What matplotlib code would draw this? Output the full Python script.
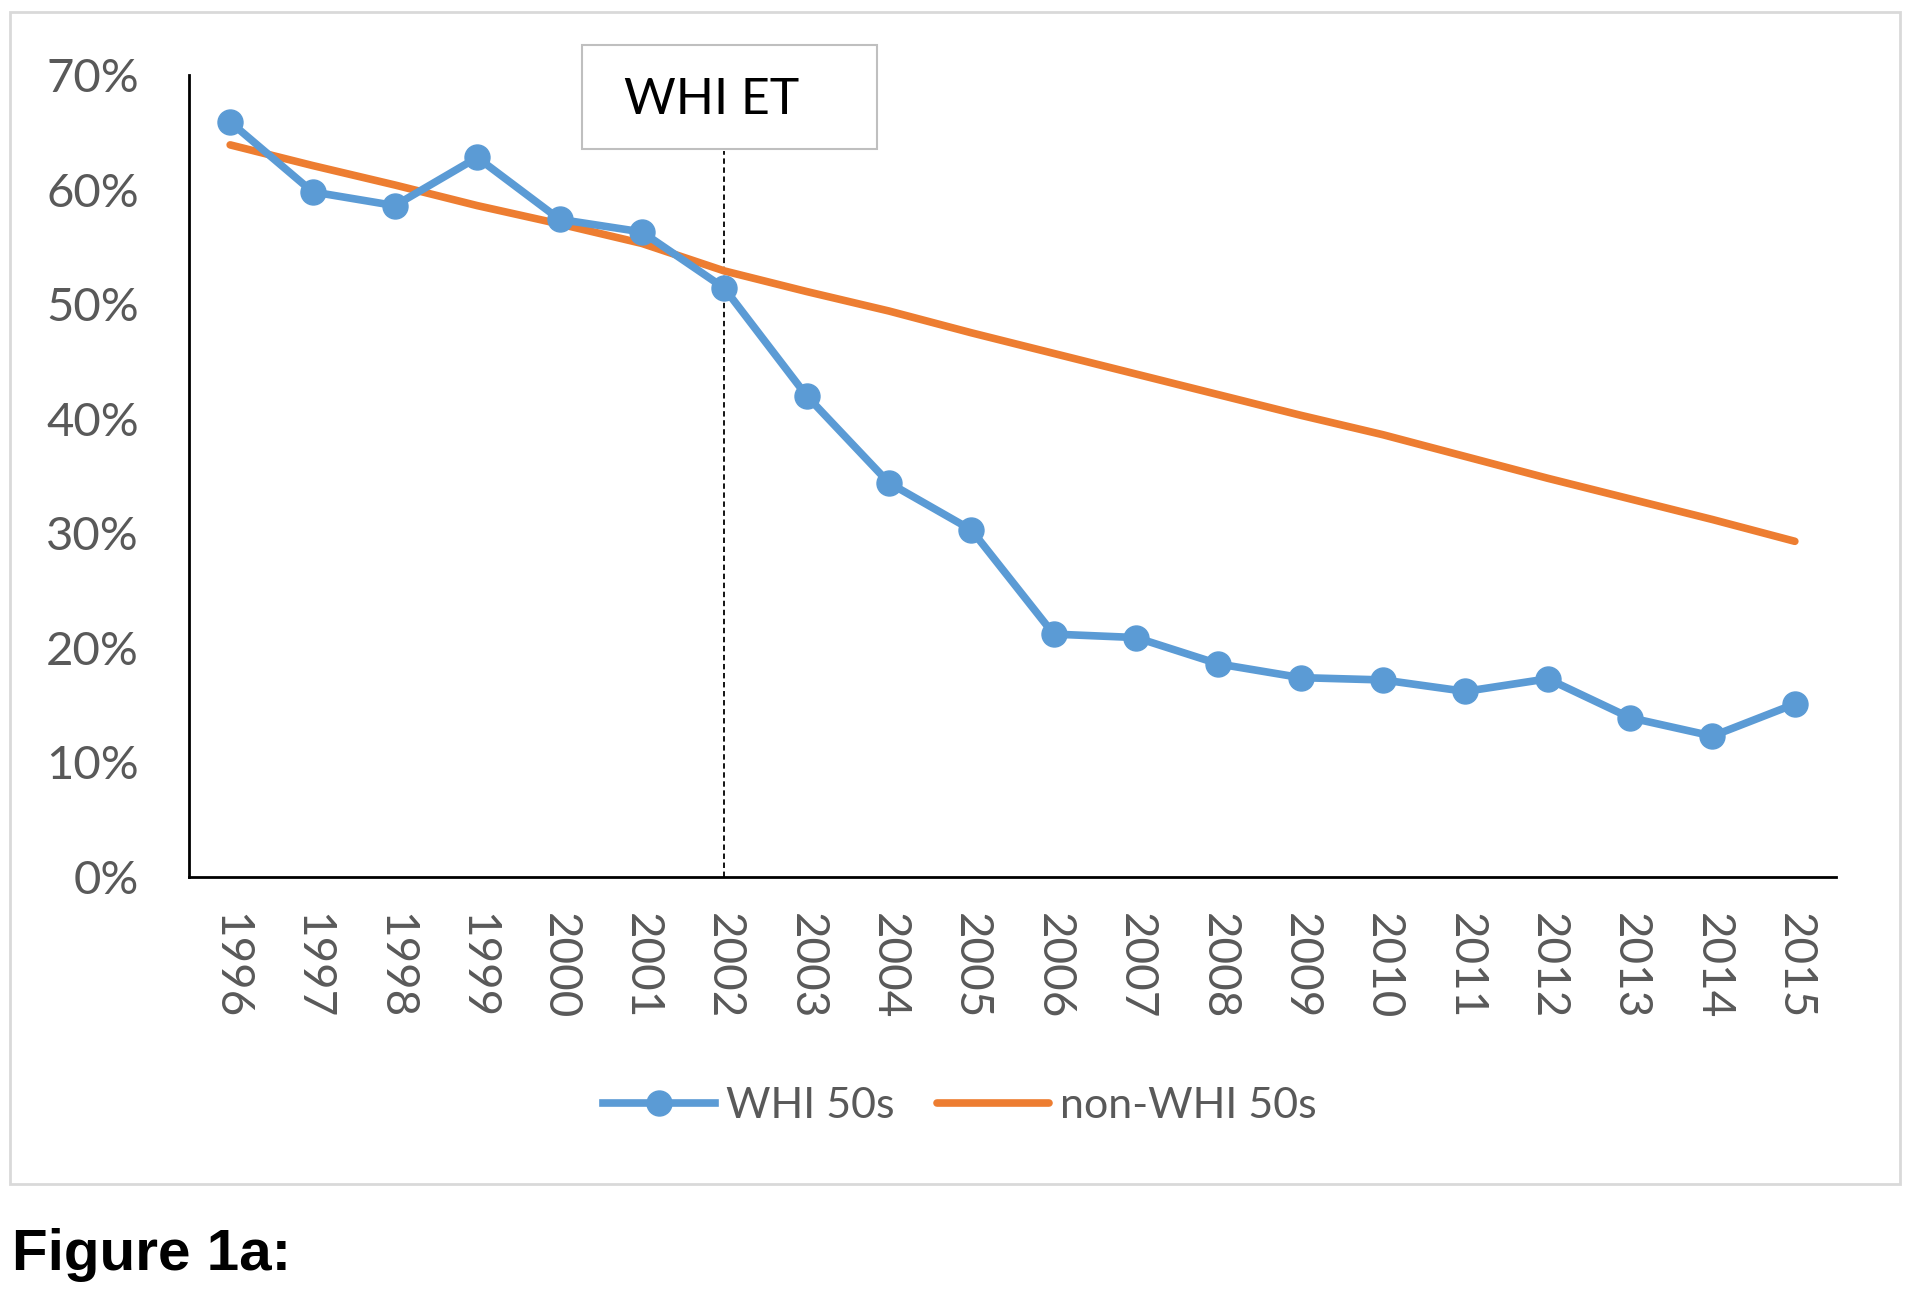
import matplotlib
matplotlib.use("Agg")
import matplotlib.pyplot as plt
from matplotlib.patches import Rectangle

YEARS = [str(y) for y in range(1996, 2016)]
WHI_50S = [65.9, 59.8, 58.6, 62.8, 57.4, 56.3, 51.4, 42.0, 34.4, 30.3,
           21.2, 20.9, 18.6, 17.4, 17.2, 16.2, 17.3, 13.9, 12.3, 15.1]
NON_WHI_50S = [63.9, 62.1, 60.4, 58.6, 57.0, 55.3, 52.9, 51.1, 49.4, 47.5,
               45.7, 43.9, 42.1, 40.3, 38.6, 36.7, 34.8, 33.0, 31.2, 29.3]
Y_TICKS = [0, 10, 20, 30, 40, 50, 60, 70]
EVENT_YEAR = "2002"
EVENT_LABEL = "WHI ET"

BLUE, ORANGE = "#5b9bd5", "#ed7d31"
GREY_TXT, BORDER = "#595959", "#d9d9d9"

plt.rcParams["font.family"] = ["Lato", "DejaVu Sans"]

W, H = 1910, 1294
fig = plt.figure(figsize=(W / 100, H / 100), dpi=100, facecolor="white")


def fx(px):
    return px / W


def fy(py):
    return 1 - py / H


# outer chart border
fig.patches.append(Rectangle((fx(10), fy(1184)), fx(1890), 1172 / H,
                             transform=fig.transFigure, fill=False,
                             edgecolor=BORDER, linewidth=2))

ax = fig.add_axes([fx(189), fy(877), fx(1836 - 189), (877 - 75) / H])
x = list(range(len(YEARS)))
ax.plot(x, NON_WHI_50S, color=ORANGE, linewidth=5.5,
        solid_capstyle="round", label="non-WHI 50s", zorder=2)
ax.plot(x, WHI_50S, color=BLUE, linewidth=5.5, marker="o", markersize=18,
        label="WHI 50s", zorder=3)

ev = YEARS.index(EVENT_YEAR)
ax.plot([ev, ev], [0, 63.4], color="black", linewidth=1.3,
        linestyle=(0, (3, 2)), zorder=1)

ax.set_xlim(-0.5, len(YEARS) - 0.5)
ax.set_ylim(0, 70)
ax.set_xticks(x)
ax.set_xticklabels(YEARS, rotation=270, fontsize=33, color=GREY_TXT)
ax.set_yticks(Y_TICKS)
ax.set_yticklabels([f"{v}%" for v in Y_TICKS], fontsize=34, color=GREY_TXT)
ax.tick_params(axis="x", length=0, pad=26)
ax.tick_params(axis="y", length=0, pad=36)
for s in ("top", "right"):
    ax.spines[s].set_visible(False)
for s in ("left", "bottom"):
    ax.spines[s].set_color("black")
    ax.spines[s].set_linewidth(2)

# event box
fig.patches.append(Rectangle((fx(582), fy(149)), fx(877 - 582), 104 / H,
                             transform=fig.transFigure, facecolor="white",
                             edgecolor="#bfbfbf", linewidth=1.5))
fig.text(fx(624), fy(100), EVENT_LABEL, fontsize=36, color="black",
         ha="left", va="center")

h, l = ax.get_legend_handles_labels()
fig.legend(h[::-1], l[::-1], loc="center", bbox_to_anchor=(fx(960), fy(1106)),
           ncol=2, frameon=False, fontsize=31, labelcolor=GREY_TXT,
           handlelength=2.6, columnspacing=1.0, handletextpad=0.25)

fig.text(fx(12), fy(1255), "Figure 1a:", fontsize=42,
         fontweight="bold", family=["Liberation Sans", "DejaVu Sans"],
         color="black", ha="left", va="center")

fig.savefig("out.png", dpi=100, facecolor="white")
